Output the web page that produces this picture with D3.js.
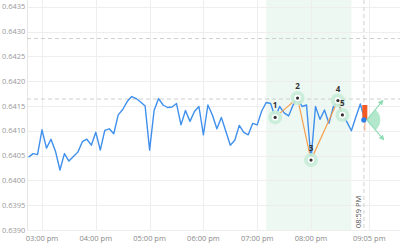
<!DOCTYPE html>
<html>
<head>
<meta charset="utf-8">
<script src="https://cdn.jsdelivr.net/npm/d3@7"></script>
<style>
  html, body { margin: 0; padding: 0; background: #fff; }
  svg { display: block; font-family: "Open Sans", sans-serif; }
</style>
</head>
<body>
<svg id="chart" width="400" height="252"></svg>
<script>
// price every 5 minutes, from 02:45 pm to 09:00 pm
const startTime = "14:45";
const values = [
  0.64047, 0.64054, 0.64052, 0.64102, 0.64065, 0.64083, 0.64059, 0.64021, 0.64054, 0.64039,
  0.64048, 0.64057, 0.64078, 0.64083, 0.64071, 0.64097, 0.64061, 0.64101, 0.64104, 0.64094,
  0.64132, 0.64143, 0.64159, 0.64169, 0.64165, 0.64158, 0.64150, 0.64061, 0.64141, 0.64165,
  0.64152, 0.64147, 0.64148, 0.64155, 0.64112, 0.64141, 0.64119, 0.64139, 0.64149, 0.64092,
  0.64152, 0.64132, 0.64104, 0.64127, 0.64099, 0.64071, 0.64081, 0.64111, 0.64097, 0.64092,
  0.64115, 0.64112, 0.64140, 0.64157, 0.64155, 0.64127, 0.64149, 0.64136, 0.64130, 0.64152,
  0.64166, 0.64149, 0.64152, 0.64041, 0.64149, 0.64123, 0.64142, 0.64115, 0.64149, 0.64161,
  0.64132, 0.64118, 0.64100, 0.64128, 0.64154, 0.64122
];

const yTicks = [0.6390, 0.6395, 0.6400, 0.6405, 0.6410, 0.6415, 0.6420, 0.6425, 0.6430, 0.6435];
const xTickTimes = ["15:00", "16:00", "17:00", "18:00", "19:00", "20:00", "21:05"];
const xTickLabels = ["03:00 pm", "04:00 pm", "05:00 pm", "06:00 pm", "07:00 pm", "08:00 pm", "09:05 pm"];

// pattern points
const patternLabels = ["1", "2", "3", "4", "5"];
const patternTimes = ["19:20", "19:45", "20:00", "20:30", "20:35"];
const patternValues = [0.64127, 0.64166, 0.64041, 0.64161, 0.64132];

// shaded zone, levels, cursor
const zoneTimes = ["19:10", "20:45"];
const levelValues = [0.64286, 0.64164];
const cursorTime = "20:59";
const cursorLabel = "08:59 PM";

// last candle
const candleTime = "21:00";
const candleOpen = 0.64152, candleClose = 0.64122, candleHigh = 0.64152, candleLow = 0.64100;

// projection arrows
const projTimes = ["21:20", "21:21"];
const projValues = [0.64161, 0.64082];

const parse = s => {
    const [h, m] = s.split(":");
    return new Date(2024, 0, 15, +h, +m);
};

const times = d3.timeMinute.every(5).range(parse(startTime), d3.timeMinute.offset(parse(startTime), 5 * values.length));
const series = values.map((v, i) => ({ t: times[i], v: v }));

const plot = { left: 27, right: 400, top: 0, bottom: 230 };

const x = d3.scaleTime()
    .domain([new Date(2024, 0, 15, 14, 43, 16), new Date(2024, 0, 15, 21, 39, 14)])
    .range([plot.left, plot.right]);

const y = d3.scaleLinear()
    .domain([0.6390, 0.6435])
    .range([plot.bottom, 6.8]);

const svg = d3.select("#chart");

// shaded zone
svg.append("rect")
    .attr("x", x(parse(zoneTimes[0])))
    .attr("y", plot.top)
    .attr("width", x(parse(zoneTimes[1])) - x(parse(zoneTimes[0])))
    .attr("height", plot.bottom - plot.top)
    .attr("fill", "#eef8f2");

// grid
svg.append("g")
    .selectAll("line")
    .data(yTicks)
    .join("line")
    .attr("x1", plot.left)
    .attr("x2", plot.right)
    .attr("y1", d => Math.round(y(d)) + 0.5)
    .attr("y2", d => Math.round(y(d)) + 0.5)
    .attr("stroke", "#eeeeee");

svg.append("g")
    .selectAll("line")
    .data(xTickTimes)
    .join("line")
    .attr("x1", d => Math.round(x(parse(d))) + 0.5)
    .attr("x2", d => Math.round(x(parse(d))) + 0.5)
    .attr("y1", plot.top)
    .attr("y2", plot.bottom)
    .attr("stroke", "#eeeeee");

svg.append("line")
    .attr("x1", plot.left + 0.5).attr("x2", plot.left + 0.5)
    .attr("y1", plot.top).attr("y2", plot.bottom)
    .attr("stroke", "#e6e6e6");

// y labels
svg.append("g")
    .selectAll("text")
    .data(yTicks)
    .join("text")
    .attr("x", 2)
    .attr("y", d => y(d))
    .attr("dy", "0.35em")
    .attr("fill", "#999")
    .style("font-size", "7.5px")
    .text(d => d3.format(".4f")(d));

// x labels
svg.append("g")
    .selectAll("text")
    .data(xTickTimes)
    .join("text")
    .attr("x", d => x(parse(d)))
    .attr("y", 241)
    .attr("text-anchor", "middle")
    .attr("fill", "#888")
    .style("font-size", "7.5px")
    .text((d, i) => xTickLabels[i]);

// dashed levels
svg.append("g")
    .selectAll("line")
    .data(levelValues)
    .join("line")
    .attr("x1", plot.left)
    .attr("x2", plot.right)
    .attr("y1", d => y(d))
    .attr("y2", d => y(d))
    .attr("stroke", "#cfcfcf")
    .attr("stroke-dasharray", "4,3");

// cursor
const cx = x(parse(cursorTime));
svg.append("line")
    .attr("x1", cx).attr("x2", cx)
    .attr("y1", plot.top).attr("y2", plot.bottom)
    .attr("stroke", "#cfcfcf")
    .attr("stroke-dasharray", "4,3");

svg.append("text")
    .attr("transform", `translate(${cx - 2.5},${plot.bottom - 2}) rotate(-90)`)
    .attr("fill", "#555")
    .style("font-size", "7.5px")
    .text(cursorLabel);

// price line
const line = d3.line()
    .x(d => x(d.t))
    .y(d => y(d.v));

svg.append("path")
    .datum(series)
    .attr("d", line)
    .attr("fill", "none")
    .attr("stroke", "#3f8fec")
    .attr("stroke-width", 1.4)
    .attr("stroke-linejoin", "round");

// pattern
const pattern = patternTimes.map((t, i) => ({ t: parse(t), v: patternValues[i], label: patternLabels[i] }));

svg.append("path")
    .datum(pattern)
    .attr("d", line)
    .attr("fill", "none")
    .attr("stroke", "#f5a04e")
    .attr("stroke-width", 1.2);

const pts = svg.append("g")
    .selectAll("g")
    .data(pattern)
    .join("g")
    .attr("transform", d => `translate(${x(d.t)},${y(d.v)})`);

pts.append("circle").attr("r", 7).attr("fill", "#c6ecd8").attr("fill-opacity", 0.9);
pts.append("circle").attr("r", 3.2).attr("fill", "#fff");
pts.append("circle").attr("r", 1.6).attr("fill", "#333");

pts.append("text")
    .attr("y", -9)
    .attr("text-anchor", "middle")
    .attr("fill", "#333")
    .style("font-size", "8px")
    .style("font-weight", "bold")
    .text(d => d.label);

// last candle
const kx = x(parse(candleTime));
svg.append("line")
    .attr("x1", kx).attr("x2", kx)
    .attr("y1", y(candleHigh)).attr("y2", y(candleLow))
    .attr("stroke", "#f7a47a")
    .attr("stroke-width", 1);

svg.append("rect")
    .attr("x", kx - 2.5)
    .attr("y", y(candleOpen))
    .attr("width", 5)
    .attr("height", y(candleClose) - y(candleOpen))
    .attr("fill", "#f25a22");

svg.append("circle")
    .attr("cx", kx - 1)
    .attr("cy", y(candleClose))
    .attr("r", 2.6)
    .attr("fill", "#2f7fe6");

// projection
const ox = kx + 2, oy = y(candleClose);
const ends = projTimes.map((t, i) => [x(parse(t)), y(projValues[i])]);
const ang = ends.map(e => Math.atan2(e[0] - ox, -(e[1] - oy)));

svg.append("path")
    .attr("transform", `translate(${ox},${oy})`)
    .attr("d", d3.arc()({ innerRadius: 0, outerRadius: 13.5, startAngle: ang[0], endAngle: ang[1] }))
    .attr("fill", "#a6e4c4")
    .attr("fill-opacity", 0.85);

svg.append("defs")
    .append("marker")
    .attr("id", "arrow")
    .attr("viewBox", "0 0 10 10")
    .attr("refX", 8).attr("refY", 5)
    .attr("markerWidth", 5).attr("markerHeight", 5)
    .attr("orient", "auto")
    .append("path")
    .attr("d", "M0,0 L10,5 L0,10 z")
    .attr("fill", "#8fdcb5");

svg.append("g")
    .selectAll("line")
    .data(ends)
    .join("line")
    .attr("x1", ox).attr("y1", oy)
    .attr("x2", d => d[0]).attr("y2", d => d[1])
    .attr("stroke", "#8fdcb5")
    .attr("stroke-width", 1.1)
    .attr("marker-end", "url(#arrow)");
</script>
</body>
</html>
